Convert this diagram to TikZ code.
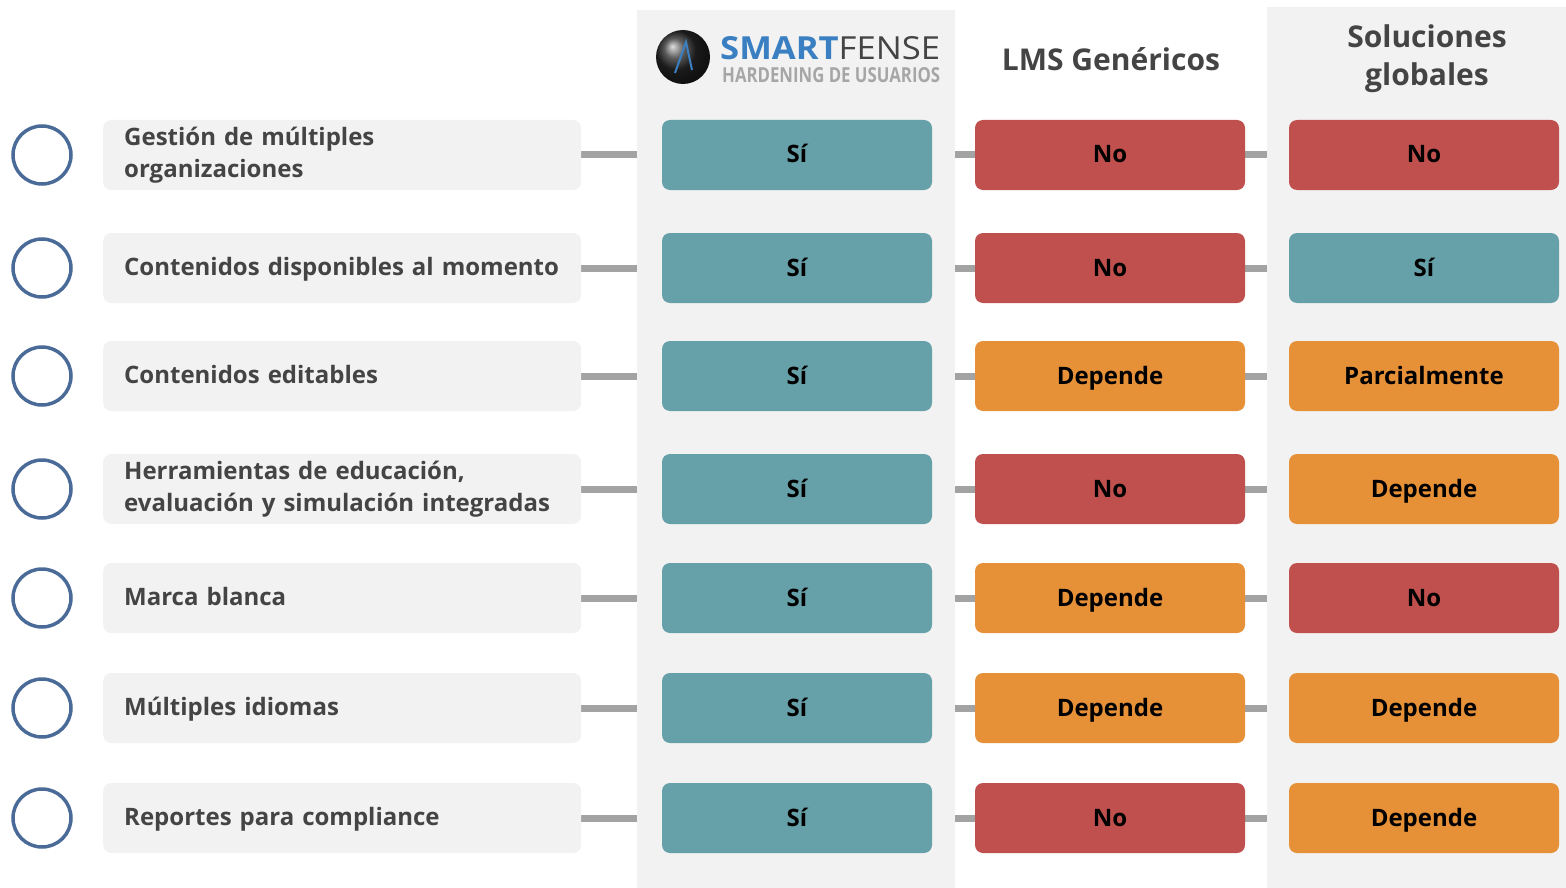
\documentclass[tikz,border=0pt]{standalone}
\usepackage{fontspec}
\setmainfont{Open Sans}
\usetikzlibrary{positioning}
\definecolor{siteal}{HTML}{66A0A8}
\definecolor{nored}{HTML}{C0504D}
\definecolor{deporange}{HTML}{E69138}
\definecolor{panel}{HTML}{F2F2F2}
\definecolor{ringblue}{HTML}{4A6B98}
\definecolor{linkgray}{HTML}{A3A3A3}
\definecolor{txtgray}{HTML}{444444}
\definecolor{logoblue}{HTML}{3A7FC1}
\pgfdeclarelayer{lines}
\pgfdeclarelayer{panels}
\pgfsetlayers{lines,panels,main}
\tikzset{
  ring/.style={circle, draw=ringblue, line width=3.5pt, minimum size=58pt, inner sep=0pt},
  feat/.style={fill=panel, rounded corners=8pt, anchor=west, minimum height=70pt,
    text width=436pt, inner xsep=21pt, align=left, text=txtgray,
    font=\fontsize{24}{32}\selectfont\bfseries},
  featone/.style={feat, text depth=3pt},
  cell/.style={rounded corners=8pt, minimum width=270pt, minimum height=70pt,
    text height=19pt, text depth=3pt,
    font=\fontsize{24}{28}\selectfont\bfseries},
  valsi/.style={cell, fill=siteal, node contents={Sí}},
  valno/.style={cell, fill=nored, node contents={No}},
  valdep/.style={cell, fill=deporange, node contents={Depende}},
  valpar/.style={cell, fill=deporange, node contents={Parcialmente}},
  link/.style={draw=linkgray, line width=7pt},
  head/.style={align=center, text=txtgray, font=\fontsize{30}{38}\selectfont\bfseries}
}
\begin{document}
\begin{tikzpicture}[x=1pt, y=-1pt]
  \useasboundingbox (0,0) rectangle (1566,888);

  % Column panels
  \begin{pgfonlayer}{panels}
    \fill[panel] (637,10) rectangle (955,888);
    \fill[panel] (1267,7) rectangle (1566,888);
  \end{pgfonlayer}

  % Headers
  \shade[ball color=black!85] (683,57) circle (27);
  \draw[logoblue, line width=2pt] (675,73) -- (686,42) -- (692,70);
  \node[anchor=south west, inner sep=0pt] (brand) at (720,60)
    {\resizebox{220pt}{23pt}{\bfseries\color{logoblue}SMART\mdseries\color{txtgray}FENSE}};
  \node[anchor=north west, inner sep=0pt] (tagline) at (722,67)
    {\resizebox{218pt}{15pt}{\bfseries\color{gray!70}HARDENING DE USUARIOS}};
  \node[head] (lms) at (1111,59) {LMS Genéricos};
  \node[head] (glob) at (1427,59) {Soluciones\\globales};

  % Rows
  \foreach \y/\k/\lab/\a/\b/\c [count=\i] in {
      155/feat/{Gestión de múltiples\\organizaciones}/valsi/valno/valno,
      268/featone/{Contenidos disponibles al momento}/valsi/valno/valsi,
      376/featone/{Contenidos editables}/valsi/valdep/valpar,
      489/feat/{Herramientas de educación,\\evaluación y simulación integradas}/valsi/valno/valdep,
      598/featone/{Marca blanca}/valsi/valdep/valno,
      708/featone/{Múltiples idiomas}/valsi/valdep/valdep,
      818/featone/{Reportes para compliance}/valsi/valno/valdep} {
    \node[ring] (r\i) at (42,\y) {};
    \node[\k] (f\i) at (103,\y) {\lab};
    \node[name=s\i, at={(797,\y)}, \a];
    \node[name=l\i, at={(1110,\y)}, \b];
    \node[name=g\i, at={(1424,\y)}, \c];
    \begin{pgfonlayer}{lines}
      \draw[link] (f\i.east) -- (s\i.west);
      \draw[link] (s\i.east) -- (l\i.west);
      \draw[link] (l\i.east) -- (g\i.west);
    \end{pgfonlayer}
  }
\end{tikzpicture}
\end{document}
